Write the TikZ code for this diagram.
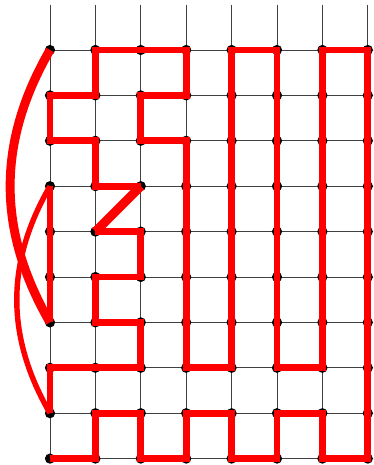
\documentclass[tikz,border=0pt]{standalone}
\begin{document}
\begin{tikzpicture}[x=1cm,y=-1cm,
  gridline/.style={draw=black!75,line width=0.6pt},
  redpath/.style={draw=red,line width=4.2pt,line join=miter},
  redthick/.style={draw=red,line width=5.6pt},
  redthin/.style={draw=red,line width=3.4pt},
  dot/.style={circle,fill=black,inner sep=0pt,minimum size=6.4pt}]
\useasboundingbox (-1.101,-1.101) rectangle (7.115,9.141);
\clip (-1.101,-1.101) rectangle (7.115,9.141);
\foreach \i in {0,...,7} \draw[gridline] (\i,-1) -- (\i,9);
\foreach \j in {0,...,9} \draw[gridline] (0,\j) -- (8,\j);
\foreach \i in {0,...,7} \foreach \j in {0,...,9} \coordinate (p-\i-\j) at (\i,\j);
\foreach \i in {0,...,7} \foreach \j in {0,...,9} \node[dot] (d-\i-\j) at (p-\i-\j) {};
\draw[redpath] (p-0-9) -- (p-1-9) -- (p-1-8) -- (p-2-8) -- (p-2-9) -- (p-3-9) -- (p-3-8) -- (p-4-8) -- (p-4-9) -- (p-5-9) -- (p-5-8) -- (p-6-8) -- (p-6-9) -- (p-7-9) -- (p-7-0) -- (p-6-0) -- (p-6-7) -- (p-5-7) -- (p-5-0) -- (p-4-0) -- (p-4-7) -- (p-3-7) -- (p-3-2) -- (p-2-2) -- (p-2-1) -- (p-3-1) -- (p-3-0) -- (p-1-0) -- (p-1-1) -- (p-0-1) -- (p-0-2) -- (p-1-2) -- (p-1-3) -- (p-2-3);
\draw[redthick] (p-2-3) -- (p-1-4);
\draw[redpath] (p-1-4) -- (p-2-4) -- (p-2-5) -- (p-1-5) -- (p-1-6) -- (p-2-6) -- (p-2-7) -- (p-0-7) -- (p-0-8);
\draw[redthin] (p-0-3) to[bend right=30] (p-0-8);
\draw[redpath] (p-0-3) -- (p-0-6);
\draw[redthick] (p-0-0) to[bend right=30] (p-0-6);
\end{tikzpicture}
\end{document}
